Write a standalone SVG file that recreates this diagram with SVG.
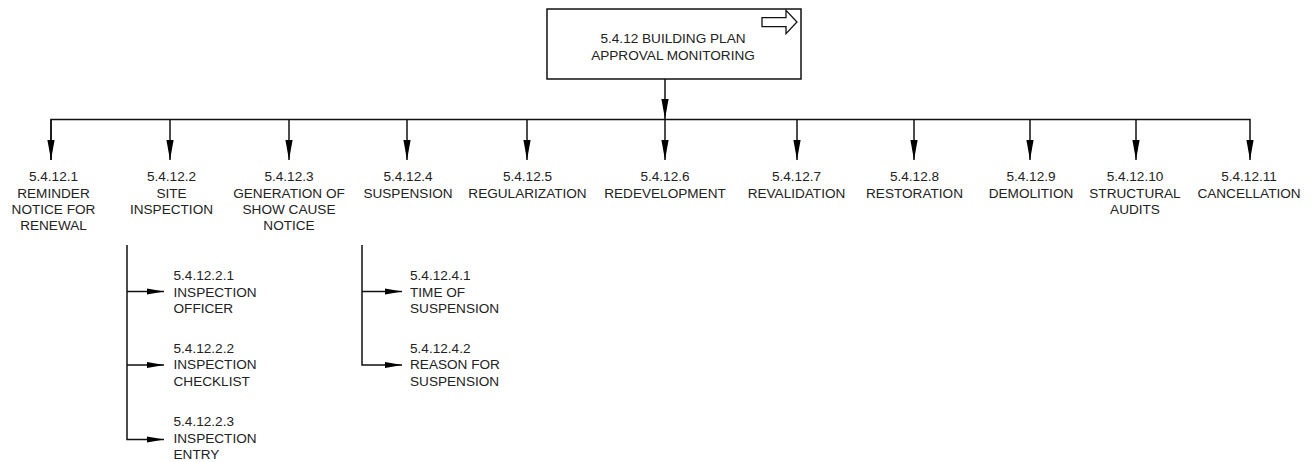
<svg xmlns="http://www.w3.org/2000/svg" width="1315" height="462" viewBox="0 0 1315 462">
<style>
text{font-family:"Liberation Sans",Arial,sans-serif;font-size:13.6px;fill:#222}
.c{text-anchor:middle}
.ln{fill:none;stroke:#111;stroke-width:1.5}
.box{fill:#fff;stroke:#111;stroke-width:1.5}
</style>
<defs>
<marker id="ad" markerUnits="userSpaceOnUse" markerWidth="20" markerHeight="8" refX="20" refY="4" orient="auto" viewBox="0 0 20 8">
<path d="M0,0.4 L20,4 L0,7.6 Z" fill="#000"/>
</marker>
<marker id="as" markerUnits="userSpaceOnUse" markerWidth="17" markerHeight="7" refX="17" refY="3.5" orient="auto" viewBox="0 0 17 7">
<path d="M0,0.6 L17,3.5 L0,6.4 Z" fill="#000"/>
</marker>
</defs>
<rect width="1315" height="462" fill="#fff"/>
<g id="connectors">
<line class="ln" x1="665" y1="79" x2="665" y2="119" marker-end="url(#ad)"/>
<polyline class="ln" points="51,160 51,119.5 1250,119.5 1250,160" marker-end="url(#ad)"/>
<line class="ln" x1="51" y1="119.5" x2="51" y2="160" marker-end="url(#ad)"/>
<line class="ln" x1="170" y1="119.5" x2="170" y2="160" marker-end="url(#ad)"/>
<line class="ln" x1="289" y1="119.5" x2="289" y2="160" marker-end="url(#ad)"/>
<line class="ln" x1="407" y1="119.5" x2="407" y2="160" marker-end="url(#ad)"/>
<line class="ln" x1="527" y1="119.5" x2="527" y2="160" marker-end="url(#ad)"/>
<line class="ln" x1="665" y1="119.5" x2="665" y2="160" marker-end="url(#ad)"/>
<line class="ln" x1="797" y1="119.5" x2="797" y2="160" marker-end="url(#ad)"/>
<line class="ln" x1="914" y1="119.5" x2="914" y2="160" marker-end="url(#ad)"/>
<line class="ln" x1="1030" y1="119.5" x2="1030" y2="160" marker-end="url(#ad)"/>
<line class="ln" x1="1136" y1="119.5" x2="1136" y2="160" marker-end="url(#ad)"/>
<polyline class="ln" points="127,245 127,439.5 164,439.5" marker-end="url(#as)"/>
<line class="ln" x1="127" y1="291.5" x2="164" y2="291.5" marker-end="url(#as)"/>
<line class="ln" x1="127" y1="365" x2="164" y2="365" marker-end="url(#as)"/>
<polyline class="ln" points="362,245 362,365 402,365" marker-end="url(#as)"/>
<line class="ln" x1="362" y1="291.5" x2="402" y2="291.5" marker-end="url(#as)"/>
</g>
<g id="root">
<rect class="box" x="547" y="9" width="254" height="70"/>
<polygon points="762,17.7 786,17.7 786,10.3 797,22 786,33.7 786,26.7 762,26.7" fill="#fff" stroke="#111" stroke-width="1.3"/>
<text class="c" x="673" y="43.3">5.4.12 BUILDING PLAN</text>
<text class="c" x="673" y="60">APPROVAL MONITORING</text>
</g>
<g id="n1"><text class="c" x="53.5" y="181.3">5.4.12.1</text><text class="c" x="53.5" y="197.6">REMINDER</text><text class="c" x="53.5" y="213.9">NOTICE FOR</text><text class="c" x="53.5" y="230.2">RENEWAL</text></g>
<g id="n2"><text class="c" x="171.5" y="181.3">5.4.12.2</text><text class="c" x="171.5" y="197.6">SITE</text><text class="c" x="171.5" y="213.9">INSPECTION</text></g>
<g id="n3"><text class="c" x="289" y="181.3">5.4.12.3</text><text class="c" x="289" y="197.6">GENERATION OF</text><text class="c" x="289" y="213.9">SHOW CAUSE</text><text class="c" x="289" y="230.2">NOTICE</text></g>
<g id="n4"><text class="c" x="408" y="181.3">5.4.12.4</text><text class="c" x="408" y="197.6">SUSPENSION</text></g>
<g id="n5"><text class="c" x="527.5" y="181.3">5.4.12.5</text><text class="c" x="527.5" y="197.6">REGULARIZATION</text></g>
<g id="n6"><text class="c" x="665" y="181.3">5.4.12.6</text><text class="c" x="665" y="197.6">REDEVELOPMENT</text></g>
<g id="n7"><text class="c" x="796.5" y="181.3">5.4.12.7</text><text class="c" x="796.5" y="197.6">REVALIDATION</text></g>
<g id="n8"><text class="c" x="914.5" y="181.3">5.4.12.8</text><text class="c" x="914.5" y="197.6">RESTORATION</text></g>
<g id="n9"><text class="c" x="1031" y="181.3">5.4.12.9</text><text class="c" x="1031" y="197.6">DEMOLITION</text></g>
<g id="n10"><text class="c" x="1135" y="181.3">5.4.12.10</text><text class="c" x="1135" y="197.6">STRUCTURAL</text><text class="c" x="1135" y="213.9">AUDITS</text></g>
<g id="n11"><text class="c" x="1249" y="181.3">5.4.12.11</text><text class="c" x="1249" y="197.6">CANCELLATION</text></g>
<g id="n2_1"><text x="173.5" y="280">5.4.12.2.1</text><text x="173.5" y="296.5">INSPECTION</text><text x="173.5" y="313">OFFICER</text></g>
<g id="n2_2"><text x="173.5" y="352.5">5.4.12.2.2</text><text x="173.5" y="369">INSPECTION</text><text x="173.5" y="385.5">CHECKLIST</text></g>
<g id="n2_3"><text x="173.5" y="426">5.4.12.2.3</text><text x="173.5" y="442.5">INSPECTION</text><text x="173.5" y="459">ENTRY</text></g>
<g id="n4_1"><text x="410" y="280">5.4.12.4.1</text><text x="410" y="296.5">TIME OF</text><text x="410" y="313">SUSPENSION</text></g>
<g id="n4_2"><text x="410" y="352.5">5.4.12.4.2</text><text x="410" y="369">REASON FOR</text><text x="410" y="385.5">SUSPENSION</text></g>
</svg>
